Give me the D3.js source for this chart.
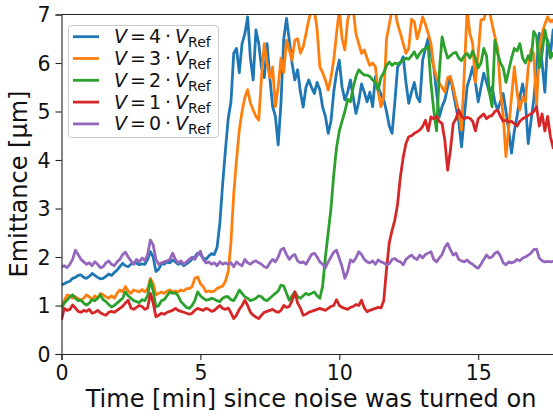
<!DOCTYPE html>
<html><head><meta charset="utf-8">
<script src="https://cdn.jsdelivr.net/npm/d3@7/dist/d3.min.js"></script>
<style>
html,body{margin:0;padding:0;background:#fff;}
svg{display:block;font-family:"DejaVu Sans",sans-serif;}
</style></head>
<body><svg id="c" width="553" height="417"></svg>
<script>
// time step of samples (min)
const timeStep = 0.1;
const xTicks = [0, 5, 10, 15];
const yTicks = [0, 1, 2, 3, 4, 5, 6, 7];
const labels = ["4", "3", "2", "1", "0"];
const colors = ["#1f77b4", "#ff7f0e", "#2ca02c", "#d62728", "#9467bd"];

const v4 = [
1.42,1.45,1.48,1.50,1.56,1.58,1.62,1.63,1.58,1.56,
1.60,1.66,1.62,1.58,1.55,1.56,1.60,1.65,1.62,1.68,
1.73,1.80,1.87,1.82,1.80,1.85,1.88,1.87,1.84,1.86,
1.85,1.95,2.11,2.00,1.70,1.75,1.87,1.85,1.90,1.88,
1.94,1.90,1.85,1.88,1.82,1.86,1.90,1.96,2.00,2.08,
2.05,1.98,1.95,2.02,2.07,2.05,2.20,2.70,3.50,4.20,
4.85,5.20,6.20,6.30,5.80,6.40,6.60,6.95,6.10,5.65,
6.68,6.40,5.90,5.70,6.40,5.70,5.10,4.90,4.31,5.17,
6.50,6.92,6.47,6.00,5.65,5.86,5.40,5.09,5.50,5.65,
5.50,5.37,5.60,5.45,5.09,4.90,4.55,4.80,5.40,5.80,
6.06,5.50,5.24,5.40,5.65,5.30,4.96,5.20,5.57,5.40,
5.20,5.40,5.10,5.72,5.50,5.35,5.24,5.00,4.70,4.55,
5.20,5.92,6.00,6.13,5.60,5.17,5.40,5.60,5.30,5.20,
6.06,6.30,6.51,6.20,5.92,5.40,4.89,5.10,5.24,5.50,
5.72,5.40,5.10,4.80,4.27,4.90,5.51,5.70,5.92,5.60,
5.20,5.50,5.79,5.60,5.40,5.50,5.20,5.03,5.20,5.37,
5.00,4.60,4.14,4.60,4.90,5.30,5.57,5.20,4.34,4.80,
5.24,5.90,6.61,6.00,5.40,6.47,6.20,6.68,6.50];

const v3 = [
0.95,1.10,1.22,1.20,1.15,1.18,1.14,1.11,1.15,1.22,
1.18,1.12,1.20,1.15,1.25,1.22,1.18,1.15,1.20,1.15,
1.25,1.32,1.28,1.39,1.30,1.25,1.32,1.30,1.28,1.33,
1.28,1.35,1.56,1.45,1.22,1.25,1.28,1.25,1.30,1.32,
1.28,1.30,1.28,1.32,1.30,1.35,1.35,1.39,1.56,1.59,
1.45,1.39,1.28,1.30,1.28,1.30,1.35,1.38,1.40,1.50,
1.70,2.30,3.30,4.00,4.62,5.00,5.29,5.45,5.17,5.03,
4.90,4.82,5.71,6.40,6.00,5.70,5.92,5.10,5.50,6.10,
5.80,6.47,6.27,6.06,6.47,6.50,6.20,6.33,6.60,6.89,
7.10,7.10,6.70,5.92,5.80,5.65,5.44,5.70,6.06,6.60,
7.10,6.50,6.27,6.89,7.10,7.10,6.60,6.40,6.20,6.27,
6.10,5.95,6.00,5.92,5.40,5.10,5.30,6.50,6.80,7.10,
7.10,6.80,6.61,6.40,6.20,6.30,6.90,6.85,6.50,6.70,
6.95,6.80,6.61,6.40,5.92,5.70,5.58,5.50,5.40,5.70,
5.72,5.50,5.24,5.00,4.62,5.80,7.10,6.61,6.40,5.60,
6.20,6.89,6.90,7.10,7.10,6.80,6.55,6.30,5.44,4.90,
4.07,4.68,5.30,5.92,5.40,5.03,5.30,5.20,5.90,6.27,
6.20,5.10,6.30,6.61,6.80,6.95,6.85,6.89,6.70];

const v2 = [
0.94,1.05,1.11,1.18,1.22,1.15,1.10,1.11,1.05,1.01,
1.05,1.12,1.10,1.15,1.22,1.12,1.08,1.02,0.97,1.00,
1.05,1.10,1.15,1.28,1.20,1.15,1.10,1.08,1.06,1.12,
1.10,1.20,1.52,1.30,0.97,1.00,1.10,1.12,1.20,1.28,
1.25,1.26,1.20,1.08,1.02,0.96,0.94,1.00,1.10,1.28,
1.20,1.15,1.11,1.12,1.15,1.13,1.10,1.08,1.15,1.18,
1.18,1.12,1.10,1.20,1.32,1.25,1.18,1.15,1.10,1.12,
1.15,1.20,1.18,1.12,1.10,1.15,1.20,1.25,1.30,1.42,
1.40,1.25,1.11,1.20,1.28,1.18,1.15,1.20,1.25,1.22,
1.25,1.28,1.20,1.15,1.40,2.00,2.50,3.00,3.70,4.25,
4.60,4.80,5.00,5.25,5.20,5.50,5.72,5.86,5.80,5.75,
5.75,5.72,5.65,5.60,5.44,5.70,5.80,5.95,6.02,5.95,
6.00,5.98,6.02,6.05,6.10,6.08,6.15,6.23,6.10,6.20,
6.27,6.30,6.34,5.58,5.03,4.60,5.80,6.54,6.30,6.10,
6.15,6.20,6.22,6.10,6.05,6.15,6.20,6.10,6.25,6.10,
5.90,6.00,6.30,6.15,5.40,5.10,6.47,6.20,6.00,5.90,
5.60,5.85,6.10,6.30,6.25,6.40,6.10,6.00,6.15,6.05,
6.65,6.55,5.90,6.20,6.68,6.40,6.10,6.20,6.15];

const v1 = [
0.70,0.94,0.90,0.92,1.01,0.95,0.88,0.86,0.90,0.88,
0.92,0.84,0.86,0.90,0.85,0.82,0.80,0.86,0.88,0.86,
0.90,0.94,0.98,1.05,1.11,0.95,0.92,0.96,1.00,0.98,
0.92,0.95,1.25,1.05,0.77,0.80,0.84,0.82,0.86,0.88,
0.90,0.94,0.90,0.88,0.86,0.84,0.82,0.84,0.90,0.94,
0.92,0.90,0.94,0.92,0.88,0.90,0.95,1.00,0.94,0.92,
0.95,0.85,0.73,0.80,0.92,1.00,1.11,1.00,0.86,0.80,
0.76,0.73,0.80,0.86,0.88,0.90,0.92,0.88,0.86,0.90,
1.00,0.96,0.98,1.10,1.28,1.05,0.95,0.80,0.82,0.86,
0.88,0.90,0.92,0.94,0.92,0.90,0.94,0.98,1.00,1.12,
1.00,0.96,0.94,0.92,0.96,0.98,1.02,1.00,1.11,0.95,
0.87,0.90,0.92,0.94,0.96,0.95,1.10,1.75,2.30,2.55,
2.76,3.10,3.66,4.05,4.34,4.48,4.50,4.55,4.58,4.62,
4.69,4.82,4.60,4.89,4.85,4.90,4.80,4.75,4.40,3.79,
4.20,4.75,4.85,5.03,4.90,4.85,4.88,4.86,4.80,4.60,
4.85,4.90,4.95,4.85,4.90,4.92,5.00,5.03,4.90,4.80,
4.82,4.78,4.80,4.75,4.70,4.80,4.85,4.88,4.92,4.95,
5.00,5.10,4.70,4.95,4.60,4.90,4.48,4.25,4.20];

const v0 = [
1.80,1.82,1.78,1.85,1.95,2.14,2.05,1.95,1.90,1.85,
1.88,1.82,1.90,1.85,1.78,1.80,1.88,1.92,1.85,1.82,
1.90,1.95,2.05,2.10,2.00,1.92,1.85,1.95,1.90,1.98,
1.92,2.05,2.35,2.25,1.95,1.85,1.88,1.90,1.92,1.95,
2.08,1.95,1.88,1.92,1.85,1.90,1.95,2.00,1.95,2.05,
2.12,1.95,1.88,1.90,1.85,1.88,1.82,1.90,1.85,1.88,
1.85,1.88,1.80,1.90,1.85,1.82,1.95,1.88,1.85,1.90,
1.92,1.88,1.85,1.80,1.78,1.88,1.95,1.90,2.00,2.15,
2.18,2.05,1.95,2.02,2.05,1.92,1.88,1.90,1.85,1.95,
2.05,2.08,2.00,1.90,1.85,1.78,1.90,2.00,2.10,2.14,
1.97,1.80,1.56,1.70,1.94,1.90,1.98,2.11,2.05,1.95,
1.90,1.88,1.92,1.85,1.94,1.90,1.88,1.84,1.86,1.95,
1.97,1.92,1.90,1.84,1.95,2.00,2.04,1.98,1.95,2.04,
1.98,2.05,2.08,2.11,1.95,1.90,1.98,2.05,2.20,2.28,
2.15,2.04,2.08,1.95,1.92,1.90,1.94,1.88,1.85,1.80,
1.77,1.85,1.95,2.04,1.98,2.00,2.08,2.11,2.02,1.88,
1.84,1.90,1.88,1.90,1.95,1.92,1.98,2.00,2.04,2.08,
2.15,2.16,1.98,1.92,1.90,1.91,1.90,1.91,1.90];

const series = [v4, v3, v2, v1, v0];

const svg = d3.select("#c");
const L = 61.5, R = 560, T = 14.5, B = 354;
const x = d3.scaleLinear().domain([0, (R - L) / 27.78]).range([L, R]);
const y = d3.scaleLinear().domain([0, 7]).range([B, T]);

svg.append("defs").append("clipPath").attr("id", "clip")
  .append("rect").attr("x", L).attr("y", T).attr("width", R - L).attr("height", B - T);

const line = d3.line().x((d, i) => x(i * timeStep)).y(d => y(d));
const g = svg.append("g").attr("clip-path", "url(#clip)");
series.forEach((s, k) => {
  g.append("path").datum(s).attr("d", line)
    .attr("fill", "none").attr("stroke", colors[k])
    .attr("stroke-width", 2.8).attr("stroke-linejoin", "round");
});

// axes
const xAxis = d3.axisBottom(x).tickValues(xTicks).tickSize(6).tickPadding(4).tickFormat(d3.format("d"));
const yAxis = d3.axisLeft(y).tickValues(yTicks).tickSize(6).tickPadding(5).tickFormat(d3.format("d"));
const gx = svg.append("g").attr("transform", `translate(0,${B})`).call(xAxis);
const gy = svg.append("g").attr("transform", `translate(${L},0)`).call(yAxis);
[gx, gy].forEach(a => {
  a.select(".domain").attr("stroke", "#222").attr("stroke-width", 1.1);
  a.selectAll(".tick line").attr("stroke", "#222").attr("stroke-width", 1.1);
  a.selectAll(".tick text").attr("fill", "#111").style("font-size", "20.5px").style("font-family", "DejaVu Sans");
});
gy.selectAll(".tick text").attr("dy", "0.36em");
gx.selectAll(".tick text").attr("dy", "0.78em");
// top spine
svg.append("line").attr("x1", L).attr("x2", R).attr("y1", T).attr("y2", T)
  .attr("stroke", "#222").attr("stroke-width", 1.1);

// axis labels
svg.append("text").attr("x", 311).attr("y", 407).attr("text-anchor", "middle")
  .style("font-size", "24px").attr("fill", "#111").text("Time [min] since noise was turned on");
svg.append("text").attr("transform", `translate(27,184) rotate(-90)`).attr("text-anchor", "middle")
  .style("font-size", "24px").attr("fill", "#111").text("Emittance [μm]");

// legend
const lg = svg.append("g");
lg.append("rect").attr("x", 68.5).attr("y", 25.5).attr("width", 150).attr("height", 112)
  .attr("rx", 3).attr("fill", "rgba(255,255,255,0.8)").attr("stroke", "#ccc").attr("stroke-width", 1);
labels.forEach((lab, k) => {
  const yy = 36.7 + k * 21.8;
  lg.append("line").attr("x1", 73).attr("x2", 99).attr("y1", yy).attr("y2", yy)
    .attr("stroke", colors[k]).attr("stroke-width", 2.8);
  const t = lg.append("text").attr("x", 114).attr("y", yy + 6.5).style("font-size", "19px").attr("fill", "#111");
  t.append("tspan").style("font-style", "italic").text("V");
  t.append("tspan").attr("dx", 3).text("=");
  t.append("tspan").attr("dx", 3).text(lab);
  t.append("tspan").attr("dx", 4).text("·");
  t.append("tspan").attr("dx", 4).style("font-style", "italic").text("V");
  t.append("tspan").attr("dy", 4).style("font-size", "14px").text("Ref");
});
</script></body></html>
